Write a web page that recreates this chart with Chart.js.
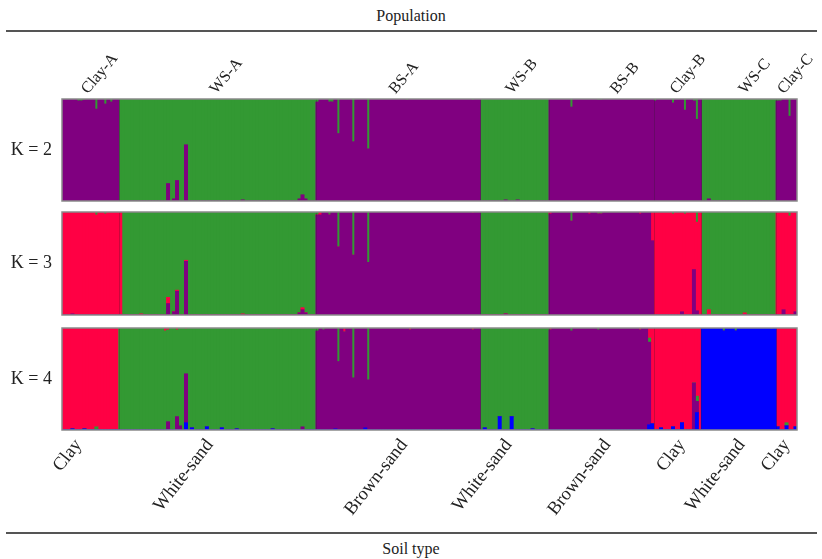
<!DOCTYPE html>
<html>
<head>
<meta charset="utf-8">
<title>Population structure, K = 2 to 4</title>
<script src="https://cdn.jsdelivr.net/npm/chart.js@4.4.1/dist/chart.umd.min.js"></script>
<style>
  body { margin: 0; background: #fff; }
  #wrap { position: relative; width: 822px; height: 559px; font-family: "Liberation Serif", serif; color: #222; }
  canvas { position: absolute; left: 0; }
  .rule { position: absolute; left: 6px; width: 811px; height: 0; border-top: 2px solid #555; }
  .caption { position: absolute; left: 0; width: 822px; text-align: center; font-size: 16px; }
</style>
</head>
<body>
<div id="wrap">
  <div class="caption" style="top:7px">Population</div>
  <div class="rule" style="top:30px"></div>
  <canvas id="k2" width="822" height="205" style="top:0"></canvas>
  <canvas id="k3" width="822" height="114" style="top:205px"></canvas>
  <canvas id="k4" width="822" height="205" style="top:320px"></canvas>
  <div class="rule" style="top:532px"></div>
  <div class="caption" style="top:540px">Soil type</div>
</div>
<script>
  const popNames = ["Clay-A", "WS-A", "BS-A", "WS-B", "BS-B", "Clay-B", "WS-C", "Clay-C"];
  const soilNames = ["Clay", "White-sand", "Brown-sand", "White-sand", "Brown-sand", "Clay", "White-sand", "Clay"];
  const popSizes = [19, 66, 55, 23, 35, 16, 25, 7];
  // individual index that carries each population / soil label
  const popLabelAt = [12, 55, 115, 154, 189, 209, 232, 245];
  const soilLabelAt = [5, 49, 114, 149, 182, 207, 227, 242];

  // membership (%) per individual, one array per cluster
  const k2Purple = [
    // Clay-A
    100,100,100,100,100,98,98,99,100,100, 100,90,100,100,95,100,97,100,100,
    // WS-A
    0,0,0,0,0,0,0,0,0,0, 0,0,0,0,0,0,17,0,2,20, 0,0,55,0,0,0,0,0,0,0,
    0,0,0,0,0,0,0,0,0,0, 0,1,0,0,0,0,0,0,0,0, 0,0,0,0,0,0,0,0,0,0, 2,6,2,0,0,0,
    // BS-A
    97,100,100,100,97,97,100,66,100,100, 100,100,58,100,100,100,100,51,100,100,
    100,100,100,100,100,100,100,100,100,100, 99,100,100,100,100,100,100,100,100,100,
    100,100,100,100,100,100,100,100,100,100, 100,100,99,100,100,
    // WS-B
    0,0,0,0,0,0,0,0,1,0, 0,0,1,0,0,0,0,0,0,0, 0,0,0,
    // BS-B
    100,100,100,100,100,100,100,92,100,100, 100,100,100,100,100,100,99,99,100,100,
    100,100,100,100,100,100,100,100,100,100, 100,100,100,100,100,
    // Clay-B
    98,100,100,100,100,100,96,100,100,100, 89,100,100,98,80,100,
    // WS-C
    0,0,2,0,0,0,0,0,0,0, 0,0,0,0,0,0,0,0,0,0, 0,0,0,0,0,
    // Clay-C
    98,98,100,100,83,100,100
  ];
  const k2Green = [
    0,0,0,0,0,2,2,1,0,0, 0,10,0,0,5,0,3,0,0,
    100,100,100,100,100,100,100,100,100,100, 100,100,100,100,100,100,83,100,98,80,
    100,100,45,100,100,100,100,100,100,100, 100,100,100,100,100,100,100,100,100,100,
    100,99,100,100,100,100,100,100,100,100, 100,100,100,100,100,100,100,100,100,100,
    98,94,98,100,100,100,
    3,0,0,0,3,3,0,34,0,0, 0,0,42,0,0,0,0,49,0,0, 0,0,0,0,0,0,0,0,0,0,
    1,0,0,0,0,0,0,0,0,0, 0,0,0,0,0,0,0,0,0,0, 0,0,1,0,0,
    100,100,100,100,100,100,100,100,99,100, 100,100,99,100,100,100,100,100,100,100, 100,100,100,
    0,0,0,0,0,0,0,8,0,0, 0,0,0,0,0,0,1,1,0,0, 0,0,0,0,0,0,0,0,0,0, 0,0,0,0,0,
    2,0,0,0,0,0,4,0,0,0, 11,0,0,2,20,0,
    100,100,98,100,100,100,100,100,100,100, 100,100,100,100,100,100,100,100,100,100, 100,100,100,100,100,
    2,2,0,0,17,0,0
  ];

  const k3Purple = [
    0,0,0,1,0,0,0,0,0,0, 0,0,0,0,0,0,0,0,0,
    0,0,0,0,0,0,0,0,0,0, 0,0,0,0,0,0,11,0,3,23, 0,0,52,0,0,0,0,0,0,0,
    0,0,0,0,0,0,0,0,0,0, 0,0,0,0,0,0,0,0,0,0, 0,0,0,0,0,0,0,0,0,0, 2,5,2,0,0,0,
    97,97,100,100,97,100,100,66,100,100, 100,100,58,100,100,100,100,51,100,100,
    100,100,100,100,100,100,100,100,100,100, 100,100,100,100,100,100,100,100,100,100,
    100,100,100,100,100,100,100,100,100,100, 100,100,99,100,100,
    0,0,0,0,0,0,0,0,1,0, 0,0,0,0,0,0,0,0,0,0, 0,0,0,
    98,100,100,100,100,100,100,91,100,100, 100,100,100,98,100,100,98,98,100,100,
    100,100,100,100,100,100,100,100,100,100, 98,100,100,100,72,
    0,0,0,0,0,0,0,0,0,3, 0,0,0,44,4,0,
    0,0,0,0,0,0,0,0,0,0, 0,0,0,0,0,0,0,0,0,0, 0,0,0,0,0,
    0,0,5,0,0,0,3
  ];
  const k3Red = [
    100,100,100,99,100,100,100,100,100,100, 100,97,100,100,98,100,100,100,100,
    100,0,0,0,0,0,0,1,0,0, 0,0,0,0,0,0,6,0,0,1, 0,0,1,0,0,0,0,0,0,0,
    0,0,0,0,0,0,0,0,0,0, 0,1,0,0,0,0,0,0,0,0, 0,0,0,0,0,0,0,0,0,0, 0,2,0,0,0,0,
    0,3,0,0,0,0,0,0,0,0, 0,0,0,0,0,0,0,0,0,0, 0,0,0,0,0,0,0,0,0,0,
    0,0,0,0,0,0,0,0,0,0, 0,0,0,0,0,0,0,0,0,0, 0,0,1,0,0,
    0,0,0,0,0,0,0,0,0,0, 0,0,0,0,0,0,0,0,0,0, 0,0,0,
    2,0,0,0,0,0,0,0,0,0, 0,0,0,2,0,0,0,0,0,0, 0,0,0,0,0,0,0,0,0,0, 2,0,0,0,28,
    100,100,100,100,100,100,98,100,100,97, 98,100,100,56,86,100,
    0,0,5,0,0,0,0,0,0,0, 0,0,0,0,2,0,0,0,0,0, 0,0,0,0,0,
    100,100,95,100,96,100,97
  ];
  const k3Green = [
    0,0,0,0,0,0,0,0,0,0, 0,3,0,0,2,0,0,0,0,
    0,100,100,100,100,100,100,99,100,100, 100,100,100,100,100,100,83,100,97,76,
    100,100,47,100,100,100,100,100,100,100, 100,100,100,100,100,100,100,100,100,100,
    100,99,100,100,100,100,100,100,100,100, 100,100,100,100,100,100,100,100,100,100,
    98,93,98,100,100,100,
    3,0,0,0,3,0,0,34,0,0, 0,0,42,0,0,0,0,49,0,0, 0,0,0,0,0,0,0,0,0,0,
    0,0,0,0,0,0,0,0,0,0, 0,0,0,0,0,0,0,0,0,0, 0,0,0,0,0,
    100,100,100,100,100,100,100,100,99,100, 100,100,100,100,100,100,100,100,100,100, 100,100,100,
    0,0,0,0,0,0,0,9,0,0, 0,0,0,0,0,0,2,2,0,0, 0,0,0,0,0,0,0,0,0,0, 0,0,0,0,0,
    0,0,0,0,0,0,2,0,0,0, 2,0,0,0,10,0,
    100,100,95,100,100,100,100,100,100,100, 100,100,100,100,98,100,100,100,100,100, 100,100,100,100,100,
    0,0,0,0,4,0,0
  ];

  const k4Blue = [
    0,0,0,1,0,0,0,1,0,0, 0,0,0,0,0,0,0,0,0,
    0,0,0,0,0,0,0,0,0,0, 0,0,0,0,0,0,0,0,0,0, 0,0,7,0,2,0,0,0,0,3,
    0,0,0,0,2,0,0,0,0,1, 0,0,0,0,0,0,0,0,0,0, 0,1,0,0,0,0,0,0,0,0, 0,0,0,0,0,0,
    0,0,0,0,0,0,1,0,0,0, 0,0,0,0,0,0,2,0,0,0, 0,0,0,0,0,0,0,0,0,0,
    0,0,0,0,0,0,0,0,0,0, 0,0,0,0,0,0,0,0,0,0, 0,0,0,0,0,
    0,2,0,0,0,0,13,0,0,0, 13,0,0,0,0,0,0,1,0,0, 0,0,0,
    0,0,0,0,0,0,0,0,0,0, 0,0,0,0,0,0,0,0,0,0, 0,0,0,0,0,0,0,0,0,0, 0,0,0,5,6,
    0,0,2,0,0,0,3,0,0,7, 0,0,0,0,17,0,
    100,100,100,100,100,100,100,97,100,100, 100,97,100,100,100,100,100,100,100,100, 100,100,100,99,100,
    3,0,0,4,0,0,3
  ];
  const k4Purple = [
    0,0,0,0,0,0,0,0,0,0, 0,0,0,0,0,0,0,0,0,
    0,0,0,0,0,0,0,0,0,0, 0,0,0,0,0,0,8,0,0,13, 4,0,48,0,0,0,0,0,0,0,
    0,0,0,0,0,0,0,0,0,0, 0,0,0,0,0,0,0,0,0,0, 0,0,0,0,0,0,0,0,0,0, 0,3,0,0,0,0,
    97,100,98,100,100,100,99,67,100,96, 100,100,51,100,100,100,98,49,100,100,
    100,100,100,100,100,100,100,100,100,100, 100,98,100,100,100,100,100,100,100,100,
    100,100,100,100,100,100,100,100,100,100, 100,100,98,100,100,
    0,0,0,0,0,0,0,0,0,0, 0,0,0,0,0,0,0,0,0,0, 0,0,0,
    98,100,100,100,100,100,100,97,100,100, 100,100,100,100,100,100,98,100,100,100,
    100,100,100,100,100,100,100,100,100,100, 98,100,100,81,0,
    0,0,0,0,0,0,0,0,0,0, 0,0,0,46,11,0,
    0,0,0,0,0,0,0,0,0,0, 0,0,0,0,0,0,0,0,0,0, 0,0,0,0,0,
    0,0,0,0,0,0,0
  ];
  const k4Green = [
    0,0,0,0,0,0,0,0,0,0, 0,3,0,0,0,0,0,0,0,
    100,100,100,100,100,100,100,100,100,100, 100,100,100,100,100,97,90,100,100,85,
    96,100,44,100,98,100,100,100,100,97, 100,100,100,100,98,100,100,100,100,99,
    100,100,100,100,100,100,100,100,100,100, 100,99,100,99,100,100,100,100,100,100,
    100,97,100,100,100,100,
    3,0,2,0,0,0,0,33,0,0, 0,0,49,0,0,0,0,51,0,0, 0,0,0,0,0,0,0,0,0,0,
    0,0,0,0,0,0,0,0,0,0, 0,0,0,0,0,0,0,0,0,0, 0,0,0,0,0,
    100,98,100,100,100,100,87,100,100,100, 87,100,100,100,100,100,100,99,100,100, 100,100,100,
    0,0,0,0,0,0,0,3,0,0, 0,0,0,0,0,0,2,0,0,0, 0,0,0,0,0,0,0,0,0,0, 0,0,0,4,0,
    0,0,0,0,0,0,0,0,0,0, 0,0,0,0,5,0,
    0,0,0,0,0,0,0,3,0,0, 0,3,0,0,0,0,0,0,0,0, 0,0,0,1,0,
    0,0,0,3,0,0,0
  ];
  const k4Red = [
    100,100,100,99,100,100,100,99,100,100, 100,97,100,100,100,100,100,100,100,
    0,0,0,0,0,0,0,0,0,0, 0,0,0,0,0,3,2,0,0,2, 0,0,1,0,0,0,0,0,0,0,
    0,0,0,0,0,0,0,0,0,0, 0,0,0,0,0,0,0,0,0,0, 0,0,0,1,0,0,0,0,0,0, 0,0,0,0,0,0,
    0,0,0,0,0,0,0,0,0,4, 0,0,0,0,0,0,0,0,0,0, 0,0,0,0,0,0,0,0,0,0,
    0,2,0,0,0,0,0,0,0,0, 0,0,0,0,0,0,0,0,0,0, 0,0,2,0,0,
    0,0,0,0,0,0,0,0,0,0, 0,0,0,0,0,0,0,0,0,0, 0,0,0,
    2,0,0,0,0,0,0,0,0,0, 0,0,0,0,0,0,0,0,0,0, 0,0,0,0,0,0,0,0,0,0, 2,0,0,10,94,
    100,100,98,100,100,100,97,100,100,93, 100,100,100,54,67,100,
    0,0,0,0,0,0,0,0,0,0, 0,0,0,0,0,0,0,0,0,0, 0,0,0,0,0,
    97,100,100,93,100,100,97
  ];

  const purple = "#800080", green = "#339933", red = "#ff0044", blue = "#0000ff";
  const serif = "'Liberation Serif', 'Times New Roman', serif";

  // category keys and label lookups built from the tables above
  const individuals = [];
  const popStarts = [];
  popNames.forEach((name, p) => {
    popStarts.push(individuals.length);
    for (let j = 0; j < popSizes[p]; j++) individuals.push(name + " #" + (j + 1));
  });
  const topTicks = [], bottomTicks = [];
  popLabelAt.forEach((idx, p) => { topTicks[idx] = popNames[p]; });
  soilLabelAt.forEach((idx, p) => { bottomTicks[idx] = soilNames[p]; });

  // grey frame round each panel, faint lines between populations
  const frame = {
    id: "frame",
    afterDatasetsDraw(chart) {
      const { ctx, chartArea: a, scales: { x } } = chart;
      ctx.save();
      ctx.strokeStyle = "rgba(30, 30, 30, 0.25)";
      ctx.lineWidth = 1;
      popStarts.slice(1).forEach(i => {
        const px = Math.round((x.getPixelForValue(i - 1) + x.getPixelForValue(i)) / 2) + 0.5;
        ctx.beginPath();
        ctx.moveTo(px, a.top);
        ctx.lineTo(px, a.bottom);
        ctx.stroke();
      });
      ctx.strokeStyle = "#8a8a8a";
      ctx.lineWidth = 1.5;
      ctx.strokeRect(a.left, a.top, a.width, a.height);
      ctx.restore();
    }
  };

  // fixed axis sizes so the three panels line up exactly
  function fixX(height) {
    return s => { s.height = height; s.paddingLeft = 0; s.paddingRight = 0; };
  }

  function makePanel(id, kLabel, layers, xAxis, padding) {
    return new Chart(document.getElementById(id), {
      type: "bar",
      data: {
        labels: individuals,
        datasets: layers.map(([data, color]) => ({
          data: data,
          backgroundColor: color,
          borderWidth: 0,
          inflateAmount: 0.5,
          barPercentage: 1,
          categoryPercentage: 1
        }))
      },
      options: {
        responsive: false,
        animation: false,
        events: [],
        layout: { padding: padding },
        plugins: { legend: { display: false }, tooltip: { enabled: false } },
        scales: {
          x: Object.assign({
            stacked: true,
            grid: { display: false, drawTicks: false },
            border: { display: false }
          }, xAxis),
          y: {
            stacked: true,
            min: 0,
            max: 100,
            grid: { display: false, drawTicks: false },
            border: { display: false },
            ticks: {
              stepSize: 50,
              padding: 10,
              color: "#222",
              font: { family: serif, size: 18 },
              callback: v => (v === 50 ? kLabel : "")
            },
            afterFit: s => { s.width = 62; s.paddingTop = 0; s.paddingBottom = 0; }
          }
        }
      },
      plugins: [frame]
    });
  }

  makePanel("k2", "K = 2", [[k2Purple, purple], [k2Green, green]], {
    position: "top",
    afterFit: fixX(99),
    ticks: {
      autoSkip: false,
      minRotation: 50,
      maxRotation: 50,
      padding: 1,
      color: "#222",
      font: { family: serif, size: 16 },
      callback: (v, i) => topTicks[i] || ""
    }
  }, { top: 0, right: 25, bottom: 4, left: 0 });

  makePanel("k3", "K = 3", [[k3Purple, purple], [k3Red, red], [k3Green, green]], {
    display: false
  }, { top: 7, right: 25, bottom: 4, left: 0 });

  makePanel("k4", "K = 4", [[k4Blue, blue], [k4Purple, purple], [k4Green, green], [k4Red, red]], {
    position: "bottom",
    afterFit: fixX(95),
    ticks: {
      autoSkip: false,
      minRotation: 52,
      maxRotation: 52,
      padding: 5,
      color: "#222",
      font: { family: serif, size: 18.5 },
      callback: (v, i) => bottomTicks[i] || ""
    }
  }, { top: 8, right: 25, bottom: 0, left: 0 });
</script>
</body>
</html>
